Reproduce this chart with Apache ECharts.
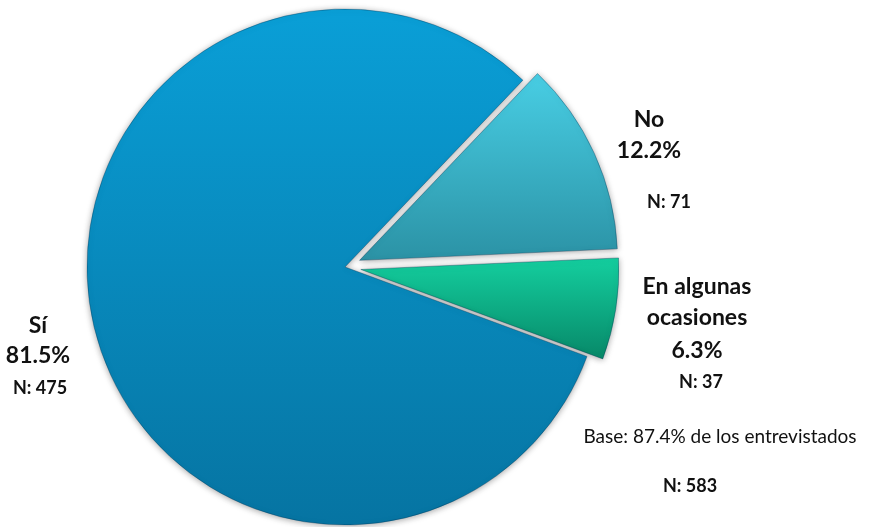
<!DOCTYPE html>
<html>
<head>
<meta charset="utf-8">
<script src="https://cdn.jsdelivr.net/npm/echarts@6/dist/echarts.min.js"></script>
<style>
  html, body { margin: 0; padding: 0; background: #ffffff; }
  #chart { width: 871px; height: 527px; }
</style>
</head>
<body>
<div id="chart"></div>
<script>
// Answer categories and respondent counts
const categories = ['No', 'En algunas\nocasiones', 'Sí'];
const counts = [71, 37, 475];
const baseNote = 'Base: 87.4% de los entrevistados';

const total = counts.reduce((a, b) => a + b, 0);
const pct = v => (v / total * 100).toFixed(1) + '%';

// Slice fills: top-to-bottom gradients
const fills = [
  ['#48cee4', '#2b92a5'],
  ['#14cf9f', '#078868'],
  ['#0a9fd7', '#0674a2']
];

// Label block geometry (x, top y, line heights, N-line shift)
const labelBoxes = [
  { x: 649, top: 104, name: 31, pct: 31, n: 73, shift: 40 },
  { x: 697, top: 271, name: 31, pct: 35, n: 29, shift: 8 },
  { x: 38,  top: 311, name: 30, pct: 30, n: 34, shift: 4 }
];

const FONT = 'Lato, "Open Sans", sans-serif';
const INK = '#111111';

function gradient(c) {
  return new echarts.graphic.LinearGradient(0, 0, 0, 1, [
    { offset: 0, color: c[0] },
    { offset: 1, color: c[1] }
  ]);
}

const data = categories.map((name, i) => {
  const style = {
    color: gradient(fills[i]),
    borderColor: 'rgba(0,50,80,0.35)',
    borderWidth: 1,
    shadowBlur: 6,
    shadowColor: 'rgba(0,0,0,0.35)',
    shadowOffsetY: 1
  };
  return {
    name: name,
    value: counts[i],
    selected: i < 2,
    itemStyle: style,
    select: { itemStyle: style }
  };
});

// Category labels: name, share and count of each slice
const labelTexts = categories.map((name, i) => {
  const box = labelBoxes[i];
  const nameLines = name.split('\n').map(s => '{name|' + s + '}').join('\n');
  return {
    type: 'text',
    x: box.x,
    y: box.top,
    style: {
      text: nameLines + '\n{pct|' + pct(counts[i]) + '}\n{n|N: ' + counts[i] + '}',
      align: 'center',
      verticalAlign: 'top',
      rich: {
        name: { fontFamily: FONT, fontSize: 23, fontWeight: 'bold', fill: INK, lineHeight: box.name },
        pct:  { fontFamily: FONT, fontSize: 23, fontWeight: 'bold', fill: INK, lineHeight: box.pct },
        n:    { fontFamily: FONT, fontSize: 18, fontWeight: 'bold', fill: INK, lineHeight: box.n,
                padding: [0, 0, 0, box.shift] }
      }
    }
  };
});

const chart = echarts.init(document.getElementById('chart'), null, { renderer: 'canvas' });

chart.setOption({
  backgroundColor: '#ffffff',
  animation: false,
  series: [{
    type: 'pie',
    center: [345, 267],
    radius: 258,
    startAngle: 46.4,
    clockwise: true,
    selectedMode: 'multiple',
    selectedOffset: 16,
    emphasis: { disabled: true },
    label: { show: false },
    labelLine: { show: false },
    data: data
  }],
  graphic: labelTexts.concat([
    {
      type: 'text',
      x: 720, y: 437,
      style: {
        text: baseNote,
        fontFamily: FONT, fontSize: 19, fill: INK,
        align: 'center', verticalAlign: 'middle'
      }
    },
    {
      type: 'text',
      x: 690, y: 486,
      style: {
        text: 'N: ' + total,
        fontFamily: FONT, fontSize: 18, fontWeight: 'bold', fill: INK,
        align: 'center', verticalAlign: 'middle'
      }
    }
  ])
});
</script>
</body>
</html>
